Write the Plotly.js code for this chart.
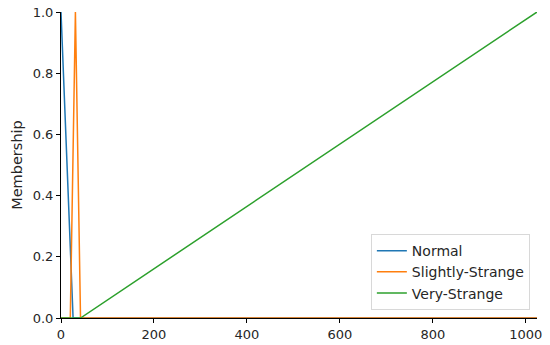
<!DOCTYPE html>
<html>
<head>
<meta charset="utf-8">
<script src="https://cdn.plot.ly/plotly-3.0.1.min.js"></script>
<style>
  html, body { margin: 0; padding: 0; background: #fff; }
  #chart { width: 550px; height: 345px; }
</style>
</head>
<body>
<div id="chart"></div>
<script>
// membership functions (universe 0..1024)
const normalX = [0, 26, 1024];
const normalY = [1, 0, 0];
const slightX = [0, 20, 31, 42, 1024];
const slightY = [0, 0, 1, 0, 0];
const veryX = [0, 42, 1024];
const veryY = [0, 0, 1];

const names = ['Normal', 'Slightly-Strange', 'Very-Strange'];
const colors = ['#1f77b4', '#ff7f0e', '#2ca02c'];
const xTicks = [0, 200, 400, 600, 800, 1000];
const yTicks = [0, 0.2, 0.4, 0.6, 0.8, 1.0];

const series = [[normalX, normalY], [slightX, slightY], [veryX, veryY]];
const data = series.map(function (s, i) {
  return {
    x: s[0],
    y: s[1],
    name: names[i],
    mode: 'lines',
    type: 'scatter',
    line: { color: colors[i], width: 1.5 },
    cliponaxis: false,
  };
});

const axisCommon = {
  showgrid: false,
  zeroline: false,
  showline: true,
  linecolor: '#000',
  linewidth: 1,
  layer: 'below traces',
  ticks: 'outside',
  ticklen: 4,
  tickcolor: '#000',
  tickfont: { size: 13, color: '#262626' },
};

const layout = {
  width: 550,
  height: 345,
  margin: { l: 61, r: 13, t: 12, b: 27 },
  paper_bgcolor: '#fff',
  plot_bgcolor: '#fff',
  font: { family: 'DejaVu Sans, sans-serif', size: 13, color: '#262626' },
  showlegend: true,
  xaxis: Object.assign({}, axisCommon, {
    range: [0, 1024],
    tickvals: xTicks,
    ticktext: xTicks.map(String),
  }),
  yaxis: Object.assign({}, axisCommon, {
    range: [0, 1],
    tickvals: yTicks,
    ticktext: yTicks.map(function (v) { return v.toFixed(1); }),
    title: { text: 'Membership', font: { size: 14.5, color: '#262626' }, standoff: 6 },
  }),
  legend: {
    x: 0.985,
    y: 0.026,
    xanchor: 'right',
    yanchor: 'bottom',
    bgcolor: 'rgba(255,255,255,0.8)',
    bordercolor: '#d8d8d8',
    borderwidth: 1,
    font: { size: 14, color: '#262626' },
    tracegroupgap: 0,
  },
};

Plotly.newPlot('chart', data, layout, { staticPlot: true });
</script>
</body>
</html>
